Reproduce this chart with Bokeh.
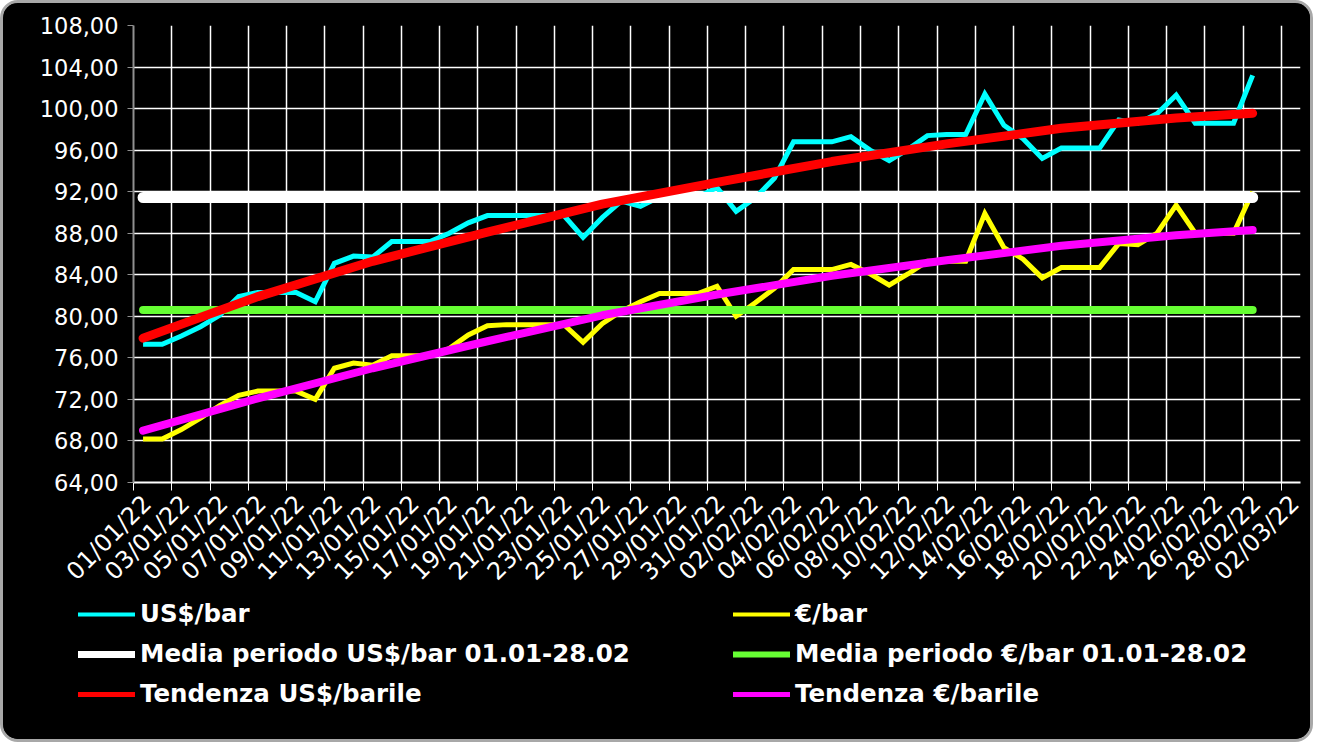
from datetime import datetime, timedelta
from bokeh.plotting import figure
from bokeh.layouts import column
from bokeh.models import (Range1d, FixedTicker, DatetimeTickFormatter, Legend, LegendItem,
                          ColumnDataSource, DatetimeAxis, CustomJSTickFormatter)
from bokeh.embed import file_html
from bokeh.resources import INLINE
import math

# ---------------- data ----------------
start_date = datetime(2022, 1, 1)
n_days = 59  # 01/01/22 .. 28/02/22
usd_bar = [77.3, 77.3, 78.1, 79.0, 80.1, 81.9, 82.3, 82.3, 82.3, 81.4,
           85.1, 85.8, 85.7, 87.2, 87.2, 87.2, 88.0, 89.0, 89.7, 89.7,
           89.7, 89.7, 89.7, 87.6, 89.5, 91.1, 90.6, 91.5, 91.5, 91.5,
           92.4, 90.1, 91.4, 93.3, 96.8, 96.8, 96.8, 97.3, 96.0, 95.0,
           96.1, 97.4, 97.5, 97.5, 101.4, 98.4, 97.1, 95.2, 96.2, 96.2,
           96.2, 98.9, 98.6, 99.5, 101.3, 98.6, 98.6, 98.6, 103.2]
eur_bar = [68.2, 68.2, 69.1, 70.2, 71.4, 72.4, 72.8, 72.8, 72.8, 72.0,
           75.0, 75.5, 75.3, 76.2, 76.2, 76.2, 76.9, 78.2, 79.1, 79.2,
           79.2, 79.2, 79.2, 77.5, 79.3, 80.5, 81.4, 82.2, 82.2, 82.2,
           82.9, 80.0, 81.3, 82.7, 84.5, 84.5, 84.5, 85.0, 84.1, 83.0,
           84.1, 85.3, 85.3, 85.3, 89.9, 86.6, 85.5, 83.7, 84.7, 84.7,
           84.7, 87.0, 86.9, 88.0, 90.7, 88.0, 88.0, 88.0, 92.0]
media_usd = 91.44
media_eur = 80.62
trend_day_index = [0, 6, 12, 18, 24, 30, 36, 42, 48, 54, 58]
trend_usd = [77.9, 81.9, 85.3, 88.1, 90.8, 92.9, 94.9, 96.6, 98.1, 99.1, 99.55]
trend_eur = [69.0, 72.1, 75.0, 77.6, 80.1, 82.1, 83.9, 85.4, 86.8, 87.8, 88.3]
y_ticks = [64, 68, 72, 76, 80, 84, 88, 92, 96, 100, 104, 108]
y_tick_labels = ["64,00", "68,00", "72,00", "76,00", "80,00", "84,00", "88,00",
                 "92,00", "96,00", "100,00", "104,00", "108,00"]
x_tick_labels = ["01/01/22", "03/01/22", "05/01/22", "07/01/22", "09/01/22", "11/01/22",
                 "13/01/22", "15/01/22", "17/01/22", "19/01/22", "21/01/22", "23/01/22",
                 "25/01/22", "27/01/22", "29/01/22", "31/01/22", "02/02/22", "04/02/22",
                 "06/02/22", "08/02/22", "10/02/22", "12/02/22", "14/02/22", "16/02/22",
                 "18/02/22", "20/02/22", "22/02/22", "24/02/22", "26/02/22", "28/02/22",
                 "02/03/22"]
labels = ["US$/bar", "€/bar", "Media periodo US$/bar 01.01-28.02",
          "Media periodo €/bar 01.01-28.02", "Tendenza US$/barile", "Tendenza €/barile"]
colors = ["#00FFFF", "#FFFF00", "#FFFFFF", "#66FF33", "#FF0000", "#FF00FF"]

# ---------------- derived positions ----------------
days = [start_date + timedelta(days=i, hours=12) for i in range(n_days)]
trend_x = [start_date + timedelta(days=i, hours=12) for i in trend_day_index]
tick_dates = [datetime.strptime(s, "%d/%m/%y") for s in x_tick_labels]
epoch = datetime(1970, 1, 1)
tick_ms = [(d - epoch).total_seconds() * 1000 for d in tick_dates]
label_shift_ms = 17 * 3600 * 1000  # labels sit slightly right of their tick, as in Excel
label_ms = [t + label_shift_ms for t in tick_ms]

src = ColumnDataSource(dict(x=days, usd=usd_bar, eur=eur_bar,
                            musd=[media_usd] * n_days, meur=[media_eur] * n_days))
tsrc = ColumnDataSource(dict(x=trend_x, tu=trend_usd, te=trend_eur))

W = 1307
H1 = 595
H2 = 141

p = figure(width=W, height=H1, x_axis_type="datetime",
           output_backend="svg", toolbar_location=None,
           x_range=Range1d(datetime(2022, 1, 1), datetime(2022, 3, 3)),
           y_range=Range1d(64, 108),
           min_border_left=130, min_border_right=10, min_border_top=22,
           min_border_bottom=H1 - 480)
p.frame_align = False
p.background_fill_color = "black"
p.border_fill_color = "black"
p.outline_line_color = None

p.xgrid.grid_line_color = "white"
p.xgrid.grid_line_width = 1.5
p.ygrid.grid_line_color = "white"
p.ygrid.grid_line_width = 1.5

p.line("x", "usd", source=src, line_color=colors[0], line_width=5, line_join="miter")
p.line("x", "eur", source=src, line_color=colors[1], line_width=5, line_join="miter")
p.line("x", "musd", source=src, line_color=colors[2], line_width=11, line_cap="round")
p.line("x", "meur", source=src, line_color=colors[3], line_width=8, line_cap="round")
p.line("x", "tu", source=tsrc, line_color=colors[4], line_width=9, line_cap="round",
       line_join="round")
p.line("x", "te", source=tsrc, line_color=colors[5], line_width=8, line_cap="round",
       line_join="round")

# main x axis: line + tick marks (labels on a second axis just below)
p.xaxis.ticker = FixedTicker(ticks=tick_ms)
p.xaxis.formatter = CustomJSTickFormatter(code="return ''")
p.xaxis.axis_line_color = "white"
p.xaxis.axis_line_width = 2
p.xaxis.major_tick_line_color = "white"
p.xaxis.major_tick_out = 8
p.xaxis.major_tick_in = 0
p.xaxis.minor_tick_line_color = None
p.xaxis.major_label_standoff = 0

lab_axis = DatetimeAxis(ticker=FixedTicker(ticks=label_ms),
                        formatter=DatetimeTickFormatter(days="%d/%m/%y", months="%d/%m/%y",
                                                        hours="%d/%m/%y"))
lab_axis.axis_line_color = None
lab_axis.major_tick_line_color = None
lab_axis.minor_tick_line_color = None
lab_axis.major_tick_out = 0
lab_axis.major_tick_in = 0
lab_axis.major_label_orientation = math.pi / 4
lab_axis.major_label_text_color = "white"
lab_axis.major_label_text_font = "DejaVu Sans"
lab_axis.major_label_text_font_size = "24px"
lab_axis.major_label_standoff = 9
p.add_layout(lab_axis, "below")

p.yaxis.ticker = FixedTicker(ticks=y_ticks)
p.yaxis.major_label_overrides = {t: l for t, l in zip(y_ticks, y_tick_labels)}
p.yaxis.major_label_text_color = "white"
p.yaxis.major_label_text_font = "DejaVu Sans"
p.yaxis.major_label_text_font_size = "22.5px"
p.yaxis.major_label_text_align = "left"
p.yaxis.axis_line_color = "#909090"
p.yaxis.axis_line_width = 2
p.yaxis.major_tick_line_color = "#909090"
p.yaxis.major_tick_out = 6
p.yaxis.major_tick_in = 0
p.yaxis.minor_tick_line_color = None
p.yaxis.major_label_standoff = 9

# ---------------- legend strip ----------------
# the legend lines reuse the series, but this strip's ranges keep them out of view
q = figure(width=W, height=H2, output_backend="svg", toolbar_location=None,
           x_range=Range1d(-10, -9), y_range=Range1d(-10, -9),
           x_axis_location=None, y_axis_location=None,
           min_border=0, min_border_left=0, min_border_right=0,
           min_border_top=0, min_border_bottom=0)
q.frame_align = False
q.background_fill_color = "black"
q.border_fill_color = "black"
q.outline_line_color = None
q.grid.visible = False
leg_widths = [4, 4, 7, 6, 5, 5]
leg_cols = ["usd", "eur", "musd", "meur", "usd", "eur"]
qsrc = ColumnDataSource(dict(x=list(range(n_days)), usd=usd_bar, eur=eur_bar,
                             musd=[media_usd] * n_days, meur=[media_eur] * n_days))
leg_r = [q.line("x", col, source=qsrc, line_color=c, line_width=w, line_cap="round")
         for col, c, w in zip(leg_cols, colors, leg_widths)]

def make_legend(idx, loc):
    lg = Legend(items=[LegendItem(label=labels[i], renderers=[leg_r[i]]) for i in idx],
                location=loc, orientation="vertical")
    lg.background_fill_alpha = 0
    lg.border_line_color = None
    lg.padding = 0
    lg.margin = 0
    lg.spacing = 11
    lg.glyph_width = 57
    lg.glyph_height = 24
    lg.label_height = 24
    lg.label_standoff = 5
    lg.label_text_color = "white"
    lg.label_text_font = "DejaVu Sans"
    lg.label_text_font_style = "bold"
    lg.label_text_font_size = "24.5px"
    return lg

q.add_layout(make_legend([0, 2, 4], (75, 31)), "center")
q.add_layout(make_legend([1, 3, 5], (730, 31)), "center")

layout = column(p, q, spacing=0)
layout.styles = {"border": "3px solid #a8a8a8", "border-radius": "18px",
                 "overflow": "hidden", "background-color": "black"}

open("out.html", "w").write(file_html(layout, INLINE))
